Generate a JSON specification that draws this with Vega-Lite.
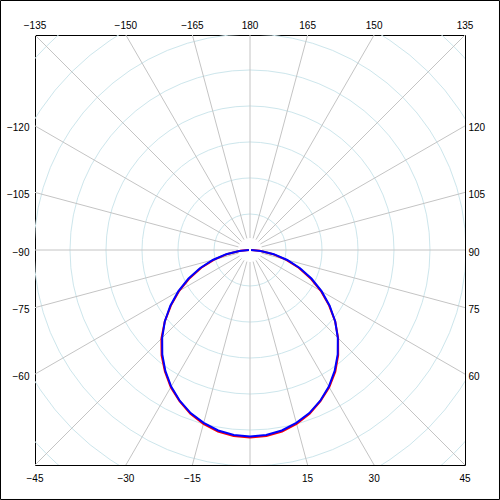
{
  "$schema": "https://vega.github.io/schema/vega-lite/v6.json",
  "width": 430,
  "height": 430,
  "autosize": "none",
  "padding": 35,
  "background": "white",
  "config": {"view": {"stroke": "black", "strokeWidth": 1}},
  "datasets": {
    "rings": [{"level": 100}, {"level": 200}, {"level": 300}, {"level": 400}, {"level": 500}, {"level": 600}, {"level": 700}, {"level": 800}],
    "rays": [{"angle": 0}, {"angle": 15}, {"angle": 30}, {"angle": 45}, {"angle": 60}, {"angle": 75}, {"angle": 90}, {"angle": 105}, {"angle": 120}, {"angle": 135}, {"angle": 150}, {"angle": 165}, {"angle": 180}, {"angle": 195}, {"angle": 210}, {"angle": 225}, {"angle": 240}, {"angle": 255}, {"angle": 270}, {"angle": 285}, {"angle": 300}, {"angle": 315}, {"angle": 330}, {"angle": 345}],
    "curve": [
      {"plane": "C0", "angle": -90, "intensity": 3}, {"plane": "C0", "angle": -85, "intensity": 27}, {"plane": "C0", "angle": -80, "intensity": 63}, {"plane": "C0", "angle": -75, "intensity": 103}, {"plane": "C0", "angle": -70, "intensity": 144}, {"plane": "C0", "angle": -65, "intensity": 185}, {"plane": "C0", "angle": -60, "intensity": 227}, {"plane": "C0", "angle": -55, "intensity": 268}, {"plane": "C0", "angle": -50, "intensity": 309}, {"plane": "C0", "angle": -45, "intensity": 348}, {"plane": "C0", "angle": -40, "intensity": 382}, {"plane": "C0", "angle": -35, "intensity": 412}, {"plane": "C0", "angle": -30, "intensity": 440}, {"plane": "C0", "angle": -25, "intensity": 463}, {"plane": "C0", "angle": -20, "intensity": 484}, {"plane": "C0", "angle": -15, "intensity": 500}, {"plane": "C0", "angle": -10, "intensity": 512}, {"plane": "C0", "angle": -5, "intensity": 519}, {"plane": "C0", "angle": 0, "intensity": 521}, {"plane": "C0", "angle": 5, "intensity": 519}, {"plane": "C0", "angle": 10, "intensity": 512}, {"plane": "C0", "angle": 15, "intensity": 500}, {"plane": "C0", "angle": 20, "intensity": 484}, {"plane": "C0", "angle": 25, "intensity": 463}, {"plane": "C0", "angle": 30, "intensity": 440}, {"plane": "C0", "angle": 35, "intensity": 413}, {"plane": "C0", "angle": 40, "intensity": 381}, {"plane": "C0", "angle": 45, "intensity": 346}, {"plane": "C0", "angle": 50, "intensity": 309}, {"plane": "C0", "angle": 55, "intensity": 268}, {"plane": "C0", "angle": 60, "intensity": 227}, {"plane": "C0", "angle": 65, "intensity": 185}, {"plane": "C0", "angle": 70, "intensity": 144}, {"plane": "C0", "angle": 75, "intensity": 103}, {"plane": "C0", "angle": 80, "intensity": 63}, {"plane": "C0", "angle": 85, "intensity": 27}, {"plane": "C0", "angle": 90, "intensity": 3},
      {"plane": "C90", "angle": -90, "intensity": 3}, {"plane": "C90", "angle": -85, "intensity": 30}, {"plane": "C90", "angle": -80, "intensity": 67}, {"plane": "C90", "angle": -75, "intensity": 107}, {"plane": "C90", "angle": -70, "intensity": 148}, {"plane": "C90", "angle": -65, "intensity": 189}, {"plane": "C90", "angle": -60, "intensity": 230}, {"plane": "C90", "angle": -55, "intensity": 270}, {"plane": "C90", "angle": -50, "intensity": 309}, {"plane": "C90", "angle": -45, "intensity": 345}, {"plane": "C90", "angle": -40, "intensity": 379}, {"plane": "C90", "angle": -35, "intensity": 410}, {"plane": "C90", "angle": -30, "intensity": 438}, {"plane": "C90", "angle": -25, "intensity": 462}, {"plane": "C90", "angle": -20, "intensity": 482}, {"plane": "C90", "angle": -15, "intensity": 497}, {"plane": "C90", "angle": -10, "intensity": 509}, {"plane": "C90", "angle": -5, "intensity": 516}, {"plane": "C90", "angle": 0, "intensity": 518}, {"plane": "C90", "angle": 5, "intensity": 516}, {"plane": "C90", "angle": 10, "intensity": 509}, {"plane": "C90", "angle": 15, "intensity": 497}, {"plane": "C90", "angle": 20, "intensity": 482}, {"plane": "C90", "angle": 25, "intensity": 462}, {"plane": "C90", "angle": 30, "intensity": 438}, {"plane": "C90", "angle": 35, "intensity": 410}, {"plane": "C90", "angle": 40, "intensity": 379}, {"plane": "C90", "angle": 45, "intensity": 345}, {"plane": "C90", "angle": 50, "intensity": 309}, {"plane": "C90", "angle": 55, "intensity": 270}, {"plane": "C90", "angle": 60, "intensity": 230}, {"plane": "C90", "angle": 65, "intensity": 189}, {"plane": "C90", "angle": 70, "intensity": 148}, {"plane": "C90", "angle": 75, "intensity": 107}, {"plane": "C90", "angle": 80, "intensity": 67}, {"plane": "C90", "angle": 85, "intensity": 30}, {"plane": "C90", "angle": 90, "intensity": 3}
    ],
    "labels": [
      {"text": "−135", "angle": -135, "side": "top"}, {"text": "−150", "angle": -150, "side": "top"}, {"text": "−165", "angle": -165, "side": "top"}, {"text": "180", "angle": 180, "side": "top"}, {"text": "165", "angle": 165, "side": "top"}, {"text": "150", "angle": 150, "side": "top"}, {"text": "135", "angle": 135, "side": "top"},
      {"text": "−120", "angle": -120, "side": "left"}, {"text": "−105", "angle": -105, "side": "left"}, {"text": "−90", "angle": -90, "side": "left"}, {"text": "−75", "angle": -75, "side": "left"}, {"text": "−60", "angle": -60, "side": "left"},
      {"text": "120", "angle": 120, "side": "right"}, {"text": "105", "angle": 105, "side": "right"}, {"text": "90", "angle": 90, "side": "right"}, {"text": "75", "angle": 75, "side": "right"}, {"text": "60", "angle": 60, "side": "right"},
      {"text": "−45", "angle": -45, "side": "bottom"}, {"text": "−30", "angle": -30, "side": "bottom"}, {"text": "−15", "angle": -15, "side": "bottom"}, {"text": "15", "angle": 15, "side": "bottom"}, {"text": "30", "angle": 30, "side": "bottom"}, {"text": "45", "angle": 45, "side": "bottom"}
    ]
  },
  "layer": [
    {
      "data": {"values": [{"frame": 1}]},
      "mark": {"type": "rect", "filled": false, "stroke": "black", "strokeWidth": 1, "clip": false},
      "encoding": {
        "x": {"datum": -693, "type": "quantitative", "scale": {"domain": [-597.2, 597.2], "nice": false, "zero": false}, "axis": null},
        "x2": {"datum": 693},
        "y": {"datum": -693, "type": "quantitative", "scale": {"domain": [-597.2, 597.2], "nice": false, "zero": false}, "axis": null},
        "y2": {"datum": 693}
      }
    },
    {
      "data": {"name": "rings"},
      "mark": {"type": "arc", "filled": false, "stroke": "#cde6ec", "strokeWidth": 1, "clip": true, "theta": 0, "theta2": 6.2832},
      "encoding": {
        "radius": {"field": "level", "type": "quantitative", "stack": null, "scale": {"type": "linear", "domain": [0, 597.2], "range": [0, 215], "zero": true}}
      }
    },
    {
      "data": {"name": "rays"},
      "transform": [
        {"calculate": "33.3*sin(datum.angle*PI/180)", "as": "xa"},
        {"calculate": "-33.3*cos(datum.angle*PI/180)", "as": "ya"},
        {"calculate": "1000*sin(datum.angle*PI/180)", "as": "xb"},
        {"calculate": "-1000*cos(datum.angle*PI/180)", "as": "yb"}
      ],
      "mark": {"type": "rule", "stroke": "#c4c4c4", "strokeWidth": 1, "clip": true},
      "encoding": {
        "x": {"field": "xa", "type": "quantitative"},
        "y": {"field": "ya", "type": "quantitative"},
        "x2": {"field": "xb"},
        "y2": {"field": "yb"}
      }
    },
    {
      "data": {"name": "curve"},
      "transform": [
        {"filter": "datum.plane === 'C0'"},
        {"calculate": "datum.intensity*sin(datum.angle*PI/180)", "as": "cx"},
        {"calculate": "-datum.intensity*cos(datum.angle*PI/180)", "as": "cy"}
      ],
      "mark": {"type": "line", "stroke": "#ff0000", "strokeWidth": 2, "clip": true},
      "encoding": {
        "x": {"field": "cx", "type": "quantitative"},
        "y": {"field": "cy", "type": "quantitative"},
        "order": {"field": "angle", "type": "quantitative"}
      }
    },
    {
      "data": {"name": "curve"},
      "transform": [
        {"filter": "datum.plane === 'C90'"},
        {"calculate": "datum.intensity*sin(datum.angle*PI/180)", "as": "cx"},
        {"calculate": "-datum.intensity*cos(datum.angle*PI/180)", "as": "cy"}
      ],
      "mark": {"type": "line", "stroke": "#0000ff", "strokeWidth": 2, "clip": true},
      "encoding": {
        "x": {"field": "cx", "type": "quantitative"},
        "y": {"field": "cy", "type": "quantitative"},
        "order": {"field": "angle", "type": "quantitative"}
      }
    },
    {
      "data": {"name": "labels"},
      "transform": [
        {"calculate": "597.2/max(abs(sin(datum.angle*PI/180)), abs(cos(datum.angle*PI/180)))", "as": "t"},
        {"calculate": "datum.t*sin(datum.angle*PI/180)", "as": "lx"},
        {"calculate": "-datum.t*cos(datum.angle*PI/180)", "as": "ly"}
      ],
      "layer": [
        {
          "transform": [{"filter": "datum.side === 'top'"}],
          "mark": {"type": "text", "font": "Liberation Sans", "fontSize": 10, "color": "black", "align": "center", "baseline": "alphabetic", "dy": -6},
          "encoding": {"x": {"field": "lx", "type": "quantitative"}, "y": {"field": "ly", "type": "quantitative"}, "text": {"field": "text"}}
        },
        {
          "transform": [{"filter": "datum.side === 'bottom'"}],
          "mark": {"type": "text", "font": "Liberation Sans", "fontSize": 10, "color": "black", "align": "center", "baseline": "alphabetic", "dy": 17},
          "encoding": {"x": {"field": "lx", "type": "quantitative"}, "y": {"field": "ly", "type": "quantitative"}, "text": {"field": "text"}}
        },
        {
          "transform": [{"filter": "datum.side === 'left'"}],
          "mark": {"type": "text", "font": "Liberation Sans", "fontSize": 10, "color": "black", "align": "right", "baseline": "alphabetic", "dx": -5.5, "dy": 5.5},
          "encoding": {"x": {"field": "lx", "type": "quantitative"}, "y": {"field": "ly", "type": "quantitative"}, "text": {"field": "text"}}
        },
        {
          "transform": [{"filter": "datum.side === 'right'"}],
          "mark": {"type": "text", "font": "Liberation Sans", "fontSize": 10, "color": "black", "align": "left", "baseline": "alphabetic", "dx": 3.5, "dy": 5.5},
          "encoding": {"x": {"field": "lx", "type": "quantitative"}, "y": {"field": "ly", "type": "quantitative"}, "text": {"field": "text"}}
        }
      ]
    }
  ]
}
